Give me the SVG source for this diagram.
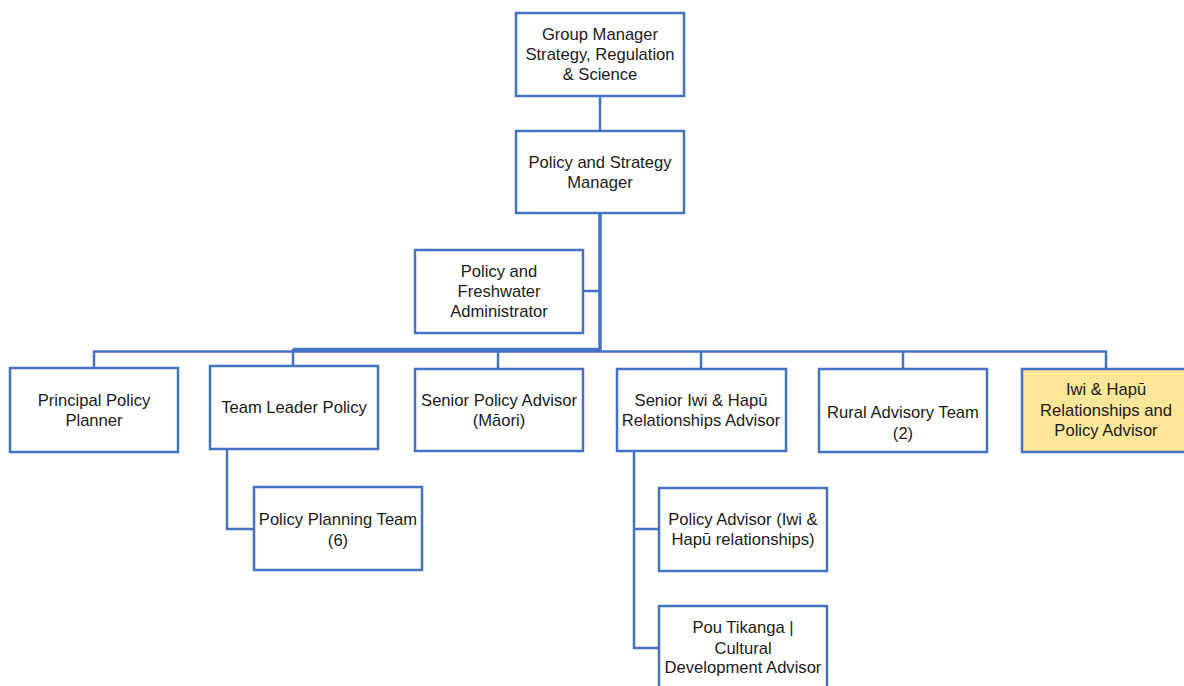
<svg xmlns="http://www.w3.org/2000/svg" width="1184" height="686" viewBox="0 0 1184 686">
<style>
.box{fill:#ffffff;stroke:#4472C4;stroke-width:2.5}
.hl{fill:#FFE699;stroke:#4472C4;stroke-width:2.5}
.ln{fill:none;stroke:#4472C4;stroke-width:2.5}
.thick{fill:none;stroke:#4472C4;stroke-width:3.5}
text{font-family:"Liberation Sans",Arial,sans-serif;font-size:16.6px;fill:#1a1a1a;text-anchor:middle}
</style>
<rect width="1184" height="686" fill="#ffffff"/>
<g id="connectors">
<line class="ln" x1="600" y1="96" x2="600" y2="131"/>
<line class="thick" x1="600" y1="213" x2="600" y2="351"/>
<line class="ln" x1="583" y1="291" x2="600" y2="291"/>
<polyline class="ln" points="94,368 94,351.5 1106,351.5 1106,369"/>
<line class="thick" x1="293" y1="349.5" x2="601" y2="349.5"/>
<line class="ln" x1="293" y1="349" x2="293" y2="366"/>
<line class="ln" x1="498" y1="351" x2="498" y2="369"/>
<line class="ln" x1="701" y1="351" x2="701" y2="369"/>
<line class="ln" x1="903" y1="351" x2="903" y2="369"/>
<polyline class="ln" points="227,449 227,529 253,529"/>
<polyline class="ln" points="634,451 634,648 659,648"/>
<line class="ln" x1="634" y1="529" x2="659" y2="529"/>
</g>
<g id="group-manager">
<rect class="box" x="516" y="13" width="168" height="83"/>
<text x="600" y="40">Group Manager</text>
<text x="600" y="60">Strategy, Regulation</text>
<text x="600" y="80">&amp; Science</text>
</g>
<g id="policy-strategy-manager">
<rect class="box" x="516" y="131" width="168" height="82"/>
<text x="600" y="168">Policy and Strategy</text>
<text x="600" y="188">Manager</text>
</g>
<g id="freshwater-admin">
<rect class="box" x="415" y="250" width="168" height="83"/>
<text x="499" y="277">Policy and</text>
<text x="499" y="297">Freshwater</text>
<text x="499" y="317">Administrator</text>
</g>
<g id="principal-policy-planner">
<rect class="box" x="10" y="368" width="168" height="84"/>
<text x="94" y="406">Principal Policy</text>
<text x="94" y="426">Planner</text>
</g>
<g id="team-leader-policy">
<rect class="box" x="210" y="366" width="168" height="83"/>
<text x="294" y="413">Team Leader Policy</text>
</g>
<g id="senior-policy-advisor">
<rect class="box" x="415" y="369" width="168" height="82"/>
<text x="499" y="406">Senior Policy Advisor</text>
<text x="499" y="426">(Māori)</text>
</g>
<g id="senior-iwi-hapu">
<rect class="box" x="617" y="369" width="169" height="82"/>
<text x="701" y="406">Senior Iwi &amp; Hapū</text>
<text x="701" y="426">Relationships Advisor</text>
</g>
<g id="rural-advisory">
<rect class="box" x="819" y="369" width="168" height="83"/>
<text x="903" y="418">Rural Advisory Team</text>
<text x="903" y="439">(2)</text>
</g>
<g id="iwi-hapu-advisor">
<rect class="hl" x="1022" y="369" width="168" height="83"/>
<text x="1106" y="395">Iwi &amp; Hapū</text>
<text x="1106" y="416">Relationships and</text>
<text x="1106" y="436">Policy Advisor</text>
</g>
<g id="policy-planning-team">
<rect class="box" x="254" y="487" width="168" height="83"/>
<text x="338" y="525">Policy Planning Team</text>
<text x="338" y="546">(6)</text>
</g>
<g id="policy-advisor-iwi">
<rect class="box" x="659" y="488" width="168" height="83"/>
<text x="743" y="525">Policy Advisor (Iwi &amp;</text>
<text x="743" y="545">Hapū relationships)</text>
</g>
<g id="pou-tikanga">
<rect class="box" x="659" y="606" width="168" height="90"/>
<text x="743" y="633">Pou Tikanga |</text>
<text x="743" y="654">Cultural</text>
<text x="743" y="673">Development Advisor</text>
</g>
</svg>
